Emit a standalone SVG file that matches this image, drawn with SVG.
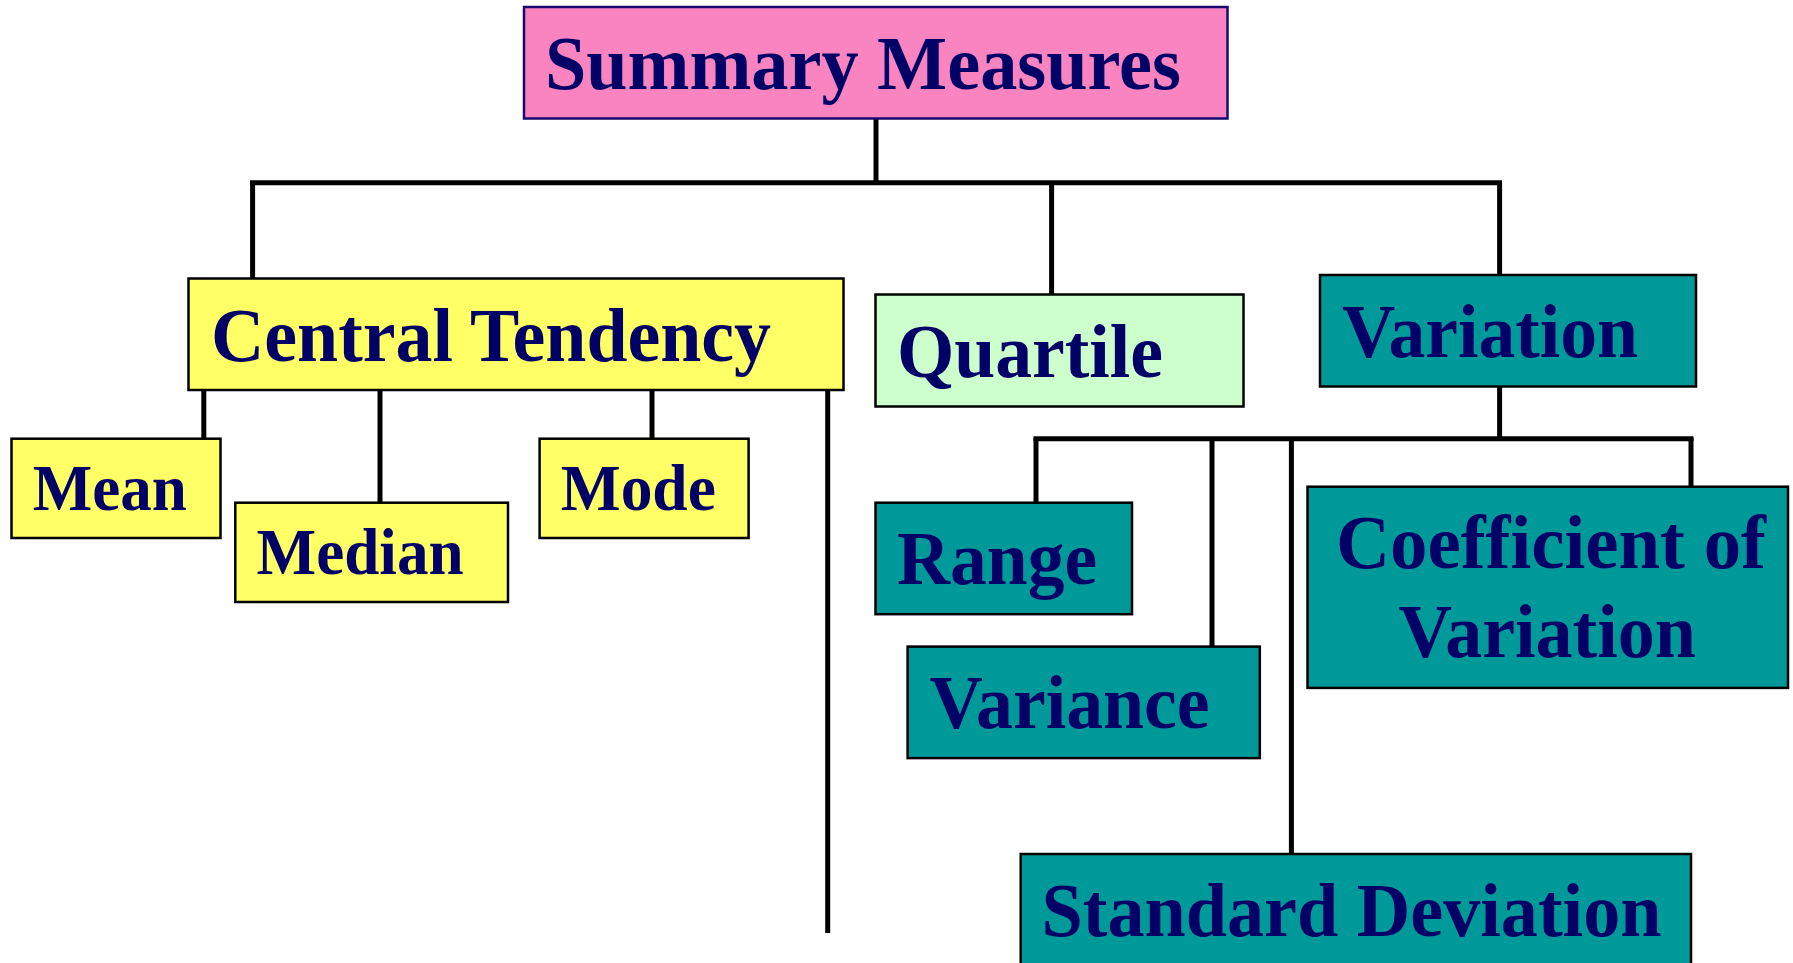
<svg xmlns="http://www.w3.org/2000/svg" width="1793" height="963" viewBox="0 0 1793 963">
<style>
.box{stroke:#000;stroke-width:2.5}
.pink{fill:#F984C0;stroke:#1a0a6e}
.yel{fill:#FFFF66}
.grn{fill:#CCFFCC}
.teal{fill:#009999}
.big{font-family:"Liberation Serif","Times New Roman",serif;font-weight:bold;font-size:76px;fill:#000066}
.sm{font-family:"Liberation Serif","Times New Roman",serif;font-weight:bold;font-size:65px;fill:#000066}
.con line{stroke:#000;stroke-width:5}
</style>
<rect width="1793" height="963" fill="#fff"/>
<g class="con">
<line x1="876" y1="118" x2="876" y2="183"/>
<line x1="250" y1="182.7" x2="1502" y2="182.7"/>
<line x1="252.6" y1="182" x2="252.6" y2="279"/>
<line x1="1051.6" y1="182" x2="1051.6" y2="295"/>
<line x1="1499.6" y1="182" x2="1499.6" y2="276"/>
<line x1="203.8" y1="390" x2="203.8" y2="439"/>
<line x1="380" y1="390" x2="380" y2="503"/>
<line x1="652" y1="390" x2="652" y2="439"/>
<line x1="827.7" y1="390" x2="827.7" y2="933"/>
<line x1="1499.6" y1="386" x2="1499.6" y2="439"/>
<line x1="1033.5" y1="438.7" x2="1693.5" y2="438.7"/>
<line x1="1036" y1="438" x2="1036" y2="503"/>
<line x1="1212" y1="438" x2="1212" y2="647"/>
<line x1="1291.4" y1="438" x2="1291.4" y2="854"/>
<line x1="1691" y1="438" x2="1691" y2="487"/>
</g>
<g id="summary">
<rect class="box pink" x="524" y="7" width="703.5" height="111.5"/>
<text class="big" x="545" y="89.3" textLength="636" lengthAdjust="spacingAndGlyphs">Summary Measures</text>
</g>
<g id="central">
<rect class="box yel" x="188.5" y="278.5" width="655" height="111.5"/>
<text class="big" x="211" y="361" textLength="560" lengthAdjust="spacingAndGlyphs">Central Tendency</text>
</g>
<g id="quartile">
<rect class="box grn" x="875.5" y="294.5" width="368" height="112"/>
<text class="big" x="897" y="376.7" textLength="266" lengthAdjust="spacingAndGlyphs">Quartile</text>
</g>
<g id="variation">
<rect class="box teal" x="1320" y="275" width="376" height="111.5"/>
<text class="big" x="1342" y="356.7" textLength="296" lengthAdjust="spacingAndGlyphs">Variation</text>
</g>
<g id="mean">
<rect class="box yel" x="11.5" y="438.7" width="209" height="99.3"/>
<text class="sm" x="32.7" y="510" textLength="154" lengthAdjust="spacingAndGlyphs">Mean</text>
</g>
<g id="median">
<rect class="box yel" x="235.3" y="502.7" width="272.7" height="99.3"/>
<text class="sm" x="256.6" y="574" textLength="207" lengthAdjust="spacingAndGlyphs">Median</text>
</g>
<g id="mode">
<rect class="box yel" x="539.6" y="438.7" width="209" height="99.3"/>
<text class="sm" x="560.8" y="510" textLength="155" lengthAdjust="spacingAndGlyphs">Mode</text>
</g>
<g id="range">
<rect class="box teal" x="875.5" y="502.7" width="256.5" height="111.5"/>
<text class="big" x="897" y="583.7" textLength="200" lengthAdjust="spacingAndGlyphs">Range</text>
</g>
<g id="variance">
<rect class="box teal" x="907.6" y="646.6" width="352.2" height="111.5"/>
<text class="big" x="929.6" y="728.4" textLength="280" lengthAdjust="spacingAndGlyphs">Variance</text>
</g>
<g id="stddev">
<rect class="box teal" x="1020.7" y="854" width="670.3" height="130"/>
<text class="big" x="1041.5" y="935.8" textLength="620" lengthAdjust="spacingAndGlyphs">Standard Deviation</text>
</g>
<g id="cov">
<rect class="box teal" x="1307.5" y="486.7" width="480.5" height="201.2"/>
<text class="big" x="1336" y="567.8" textLength="430" lengthAdjust="spacingAndGlyphs">Coefficient of</text>
<text class="big" x="1398.5" y="657" textLength="297.5" lengthAdjust="spacingAndGlyphs">Variation</text>
</g>
</svg>
